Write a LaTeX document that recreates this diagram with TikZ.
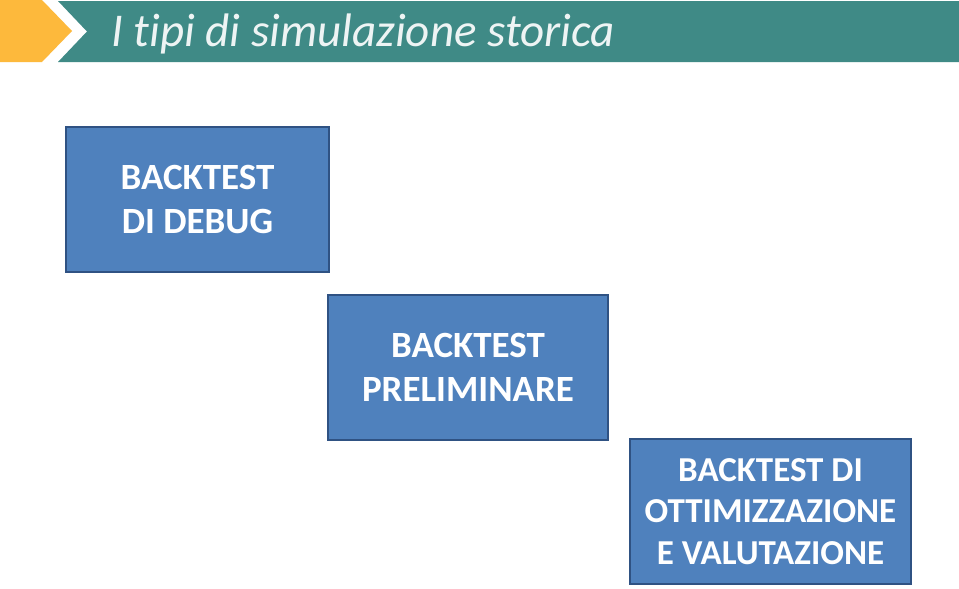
\documentclass[tikz,border=0pt]{standalone}
\usepackage{fontspec}
\setmainfont[Ligatures=NoCommon]{Carlito}
\definecolor{teal}{HTML}{3F8A86}
\definecolor{amber}{HTML}{FDB93C}
\definecolor{boxfill}{HTML}{4F81BD}
\definecolor{boxline}{HTML}{2F5283}
\definecolor{titletext}{HTML}{EEF4F4}
\tikzset{
  stage/.style={draw=boxline, line width=1.8pt, fill=boxfill, text=white,
    font=\fontsize{37}{44}\selectfont\bfseries, align=center, inner sep=0pt},
}
\begin{document}
\begin{tikzpicture}[x=1pt,y=-1pt]
\useasboundingbox (0,0) rectangle (959,589);
\fill[white] (0,0) rectangle (959,589);
% header
\fill[amber] (0,0) -- (42,0) -- (72,31) -- (42,62) -- (0,62) -- cycle;
\fill[teal] (58,1) -- (959,1) -- (959,62) -- (58,62) -- (87,31.5) -- cycle;
\node[anchor=west, text=titletext, font=\fontsize{47}{56}\selectfont\itshape, inner sep=0pt] (title) at (111,34) {I tipi di simulazione storica};
% boxes
\node[stage, minimum width=263pt, minimum height=145pt] (debug) at (197.5,199.5) {BACKTEST\\DI DEBUG};
\node[stage, minimum width=280pt, minimum height=145pt] (prelim) at (468,367.5) {BACKTEST\\PRELIMINARE};
\node[stage, minimum width=281pt, minimum height=145pt, font=\fontsize{35}{41.5}\selectfont\bfseries] (ottim) at (770.5,511.5) {BACKTEST DI\\OTTIMIZZAZIONE\\E VALUTAZIONE};
\end{tikzpicture}
\end{document}
